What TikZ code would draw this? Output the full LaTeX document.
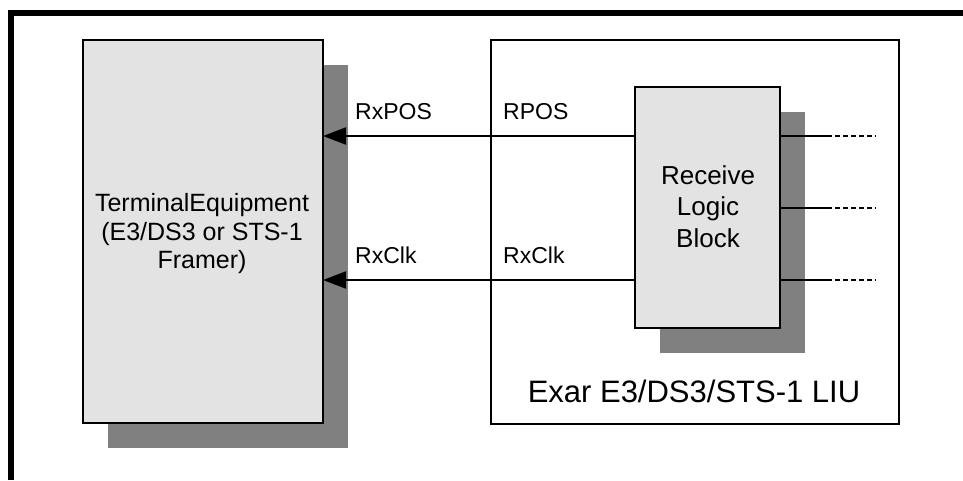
\documentclass[tikz,border=0pt]{standalone}
\usepackage{fontspec}
\setmainfont{Liberation Sans}
\usetikzlibrary{arrows.meta}
\definecolor{boxfill}{HTML}{E3E3E3}
\definecolor{shadowgray}{HTML}{808080}
\tikzset{
  blockbox/.style={draw=black, fill=boxfill, line width=2pt, inner sep=0pt, outer sep=0pt, anchor=north west},
  liubox/.style={draw=black, fill=white, line width=2pt, inner sep=0pt, outer sep=0pt, anchor=north west},
  shadowbox/.style={fill=shadowgray, draw=none, inner sep=0pt, outer sep=0pt, anchor=north west},
  sig/.style={line width=2pt, -{Triangle[length=23pt,width=17pt]}},
  wire/.style={line width=2pt},
  dashwire/.style={line width=2pt, dash pattern=on 5pt off 3pt},
  lbl/.style={inner sep=0pt, anchor=base west, font=\fontsize{23pt}{27pt}\selectfont},
  termtxt/.style={inner sep=0pt, anchor=base, font=\fontsize{25pt}{29pt}\selectfont},
  rcvtxt/.style={inner sep=0pt, anchor=base, font=\fontsize{26pt}{31pt}\selectfont},
  liutxt/.style={inner sep=0pt, anchor=base, font=\fontsize{31pt}{35pt}\selectfont},
}
\begin{document}
\begin{tikzpicture}[x=1pt, y=-1pt]
\useasboundingbox (0,0) rectangle (963,480);
% outer frame (top and left)
\draw[line width=6pt] (11,480) -- (11,13) -- (963,13);
% terminal equipment
\node[shadowbox, minimum width=240pt, minimum height=383pt] (termshadow) at (108,65) {};
\node[blockbox, minimum width=240pt, minimum height=383pt] (term) at (83,40) {};
\node[termtxt] (termA) at (202,211) {TerminalEquipment};
\node[termtxt] (termB) at (202,240) {(E3/DS3 or STS-1};
\node[termtxt] (termC) at (202,268) {Framer)};
% LIU box
\node[liubox, minimum width=408pt, minimum height=384pt] (liu) at (491,40) {};
\node[liutxt] (liutext) at (694,402) {Exar E3/DS3/STS-1 LIU};
% receive logic block
\node[shadowbox, minimum width=145pt, minimum height=241pt] (rcvshadow) at (660,112) {};
\node[blockbox, minimum width=145pt, minimum height=241pt] (rcv) at (635,87) {};
\node[rcvtxt] (rcvA) at (708,184) {Receive};
\node[rcvtxt] (rcvB) at (708,215) {Logic};
\node[rcvtxt] (rcvC) at (708,247) {Block};
% signal levels
\coordinate (yA) at (0,136);
\coordinate (yB) at (0,208);
\coordinate (yC) at (0,280);
\coordinate (stubend) at (827,0);
\coordinate (dashend) at (876,0);
% arrows to terminal
\draw[sig] (rcv.west |- yA) -- (term.east |- yA);
\draw[sig] (rcv.west |- yC) -- (term.east |- yC);
% output stubs
\foreach \y in {yA,yB,yC}{
  \draw[wire] (rcv.east |- \y) -- (stubend |- \y);
  \draw[dashwire] (stubend |- \y) -- (dashend |- \y);
}
% labels
\node[lbl] (lRxPOS) at (355,119) {RxPOS};
\node[lbl] (lRPOS) at (503,119) {RPOS};
\node[lbl] (lRxClkA) at (355,263) {RxClk};
\node[lbl] (lRxClkB) at (503,263) {RxClk};
\end{tikzpicture}
\end{document}
